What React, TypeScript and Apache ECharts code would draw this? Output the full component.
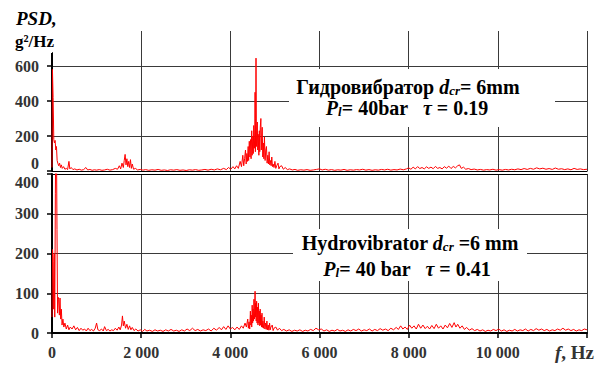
import React, { useEffect, useRef } from 'react';
import * as echarts from 'echarts';

const FONT = 'Liberation Serif';

const freqMin = 0;
const freqMax = 12000;
const freqStep = 2000;
const topMax = 800;
const topStep = 200;
const topLabelValues = [0, 200, 400, 600];
const bottomMax = 400;
const bottomStep = 100;

const topTitleLine1 = '{b|Гидровибратор }{i|d}{s|cr}{b|= 6mm}';
const topTitleLine2 = '{i|P}{s|l}{b|= 40bar   }{i|τ}{b| = 0.19}';
const bottomTitleLine1 = '{b|Hydrovibrator }{i|d}{s|cr}{b| =6 mm}';
const bottomTitleLine2 = '{i|P}{s|l}{b|= 40 bar   }{i|τ}{b| = 0.41}';

// [frequency Hz, PSD g^2/Hz] — upper panel (τ = 0.19)
const topSpectrum: [number, number][] = [
  [0, 20], [10, 580], [25, 420], [40, 180], [55, 160], [70, 175], [85, 120], [100, 140], [115, 60], [130, 45],
  [150, 30], [170, 45], [190, 20], [210, 35], [230, 15], [260, 25], [290, 10], [320, 15], [350, 8], [380, 55],
  [400, 12], [430, 20], [470, 8], [510, 12], [560, 6], [610, 10], [660, 5], [710, 8], [760, 20], [800, 6],
  [850, 9], [900, 4], [950, 7], [1000, 5], [1060, 8], [1120, 4], [1180, 6], [1240, 10], [1300, 5], [1360, 8],
  [1420, 15], [1470, 10], [1510, 30], [1540, 12], [1570, 45], [1600, 20], [1620, 60], [1640, 95], [1660, 35], [1680, 70],
  [1700, 25], [1720, 55], [1740, 20], [1760, 65], [1780, 15], [1800, 40], [1830, 10], [1870, 15], [1920, 6], [1980, 9],
  [2040, 5], [2100, 8], [2170, 4], [2240, 7], [2310, 5], [2380, 9], [2450, 4], [2520, 6], [2590, 3], [2660, 7],
  [2730, 5], [2800, 8], [2870, 4], [2940, 6], [3010, 3], [3080, 7], [3150, 5], [3220, 8], [3290, 4], [3360, 6],
  [3430, 9], [3500, 5], [3570, 10], [3640, 6], [3710, 12], [3780, 7], [3850, 15], [3910, 8], [3960, 20], [4010, 10],
  [4060, 25], [4100, 12], [4140, 30], [4180, 15], [4220, 55], [4250, 25], [4280, 90], [4300, 30], [4320, 70], [4340, 120],
  [4355, 40], [4370, 100], [4385, 55], [4400, 140], [4410, 60], [4425, 170], [4440, 80], [4455, 180], [4465, 70], [4480, 230],
  [4490, 90], [4505, 200], [4515, 100], [4525, 260], [4540, 130], [4550, 240], [4555, 450], [4562, 110], [4570, 300], [4576, 645],
  [4585, 140], [4595, 230], [4605, 280], [4615, 120], [4625, 210], [4640, 90], [4650, 230], [4660, 110], [4672, 250], [4685, 300],
  [4695, 120], [4705, 200], [4715, 250], [4728, 80], [4740, 160], [4752, 70], [4765, 195], [4780, 60], [4795, 120], [4810, 140],
  [4825, 45], [4840, 90], [4855, 40], [4870, 110], [4885, 35], [4900, 60], [4915, 30], [4930, 80], [4945, 25], [4960, 40],
  [4980, 20], [5000, 55], [5020, 15], [5040, 30], [5070, 45], [5090, 12], [5110, 25], [5150, 30], [5190, 10], [5230, 20],
  [5280, 8], [5330, 12], [5390, 6], [5450, 9], [5510, 4],
  [5580, 7], [5650, 5], [5720, 8], [5790, 4], [5860, 6], [5930, 9], [6000, 12], [6060, 6], [6130, 10], [6200, 5],
  [6270, 8], [6340, 4], [6410, 7], [6480, 5], [6550, 9], [6620, 4], [6690, 7], [6760, 5], [6830, 8], [6900, 6],
  [6970, 10], [7040, 5], [7110, 8], [7180, 4], [7250, 7], [7320, 5], [7390, 9], [7460, 6], [7530, 10], [7600, 5],
  [7670, 8], [7740, 6], [7810, 11], [7880, 7], [7950, 12], [8000, 18], [8050, 10], [8100, 22], [8150, 12], [8200, 25],
  [8250, 14], [8300, 20], [8350, 12], [8400, 24], [8450, 15], [8500, 22], [8550, 13], [8600, 26], [8650, 15], [8700, 20],
  [8750, 12], [8800, 25], [8850, 16], [8900, 28], [8950, 14], [9000, 26], [9050, 18], [9100, 30], [9140, 35], [9180, 15],
  [9230, 22], [9280, 10], [9340, 14], [9400, 8], [9470, 11], [9540, 6], [9610, 9], [9680, 5], [9750, 8], [9820, 6],
  [9890, 10], [9960, 5], [10030, 8], [10100, 5], [10170, 9], [10240, 6], [10310, 10], [10380, 7], [10450, 12], [10520, 8],
  [10590, 14], [10660, 9], [10730, 15], [10800, 10], [10870, 18], [10940, 12], [11010, 16], [11080, 10], [11150, 14], [11220, 9],
  [11290, 17], [11360, 10], [11430, 13], [11500, 8], [11570, 12], [11640, 7], [11710, 15], [11780, 9], [11850, 12], [11920, 8],
  [12000, 10],
];

// [frequency Hz, PSD g^2/Hz] — lower panel (τ = 0.41)
const bottomSpectrum: [number, number][] = [
  [0, 40], [12, 210], [25, 180], [38, 60], [50, 200], [62, 40], [75, 350], [88, 520], [100, 480], [112, 260],
  [125, 50], [138, 90], [150, 85], [165, 45], [180, 88], [195, 35], [210, 60], [225, 20], [245, 35], [265, 15],
  [290, 25], [320, 10], [350, 20], [380, 8], [410, 15], [450, 10], [490, 18], [530, 8], [570, 14], [610, 6],
  [650, 12], [690, 7], [730, 10], [770, 5], [810, 12], [850, 6], [890, 9], [930, 5], [970, 12], [1000, 25],
  [1030, 8], [1070, 6], [1110, 10], [1150, 5], [1180, 16], [1220, 6], [1260, 9], [1300, 5], [1340, 8], [1380, 6],
  [1420, 12], [1460, 7], [1500, 15], [1530, 8], [1560, 20], [1580, 43], [1600, 18], [1620, 30], [1650, 12], [1680, 22],
  [1710, 9], [1740, 18], [1770, 8], [1800, 14], [1840, 6], [1880, 10], [1930, 5], [1980, 8], [2030, 4], [2080, 9],
  [2130, 5], [2190, 7], [2250, 4], [2310, 8], [2370, 5], [2430, 7], [2490, 4], [2550, 8], [2610, 5], [2670, 9],
  [2730, 5], [2790, 7], [2850, 4], [2910, 8], [2970, 5], [3030, 10], [3090, 6], [3150, 12], [3210, 6], [3270, 9],
  [3330, 5], [3390, 8], [3450, 6], [3510, 10], [3570, 5], [3630, 12], [3690, 7], [3750, 14], [3800, 8], [3850, 16],
  [3900, 9], [3950, 18], [4000, 10], [4050, 14], [4100, 8], [4150, 15], [4200, 9], [4250, 18], [4290, 12], [4330, 25],
  [4360, 15], [4390, 35], [4405, 12], [4420, 28], [4435, 10], [4450, 55], [4460, 20], [4470, 45], [4480, 15], [4490, 70],
  [4500, 25], [4510, 60], [4520, 30], [4530, 85], [4540, 35], [4548, 60], [4555, 105], [4562, 40], [4570, 75], [4580, 30],
  [4590, 80], [4600, 25], [4610, 65], [4620, 20], [4630, 75], [4640, 25], [4650, 55], [4660, 18], [4670, 60], [4680, 20],
  [4690, 45], [4700, 15], [4710, 50], [4720, 14], [4730, 30], [4745, 12], [4760, 40], [4775, 10], [4790, 25], [4805, 9],
  [4820, 30], [4835, 8], [4850, 20], [4865, 7], [4880, 25], [4895, 8], [4910, 15], [4940, 20], [4960, 6], [4980, 12],
  [5020, 15], [5060, 7], [5100, 12],
  [5150, 6], [5200, 9], [5260, 5], [5320, 8], [5380, 4], [5440, 7], [5500, 5], [5560, 8], [5620, 4], [5680, 7],
  [5740, 5], [5800, 9], [5860, 6], [5920, 12], [5980, 8], [6040, 10], [6100, 5], [6160, 8], [6220, 4], [6280, 7],
  [6340, 5], [6400, 9], [6460, 5], [6520, 7], [6580, 4], [6640, 8], [6700, 5], [6760, 9], [6820, 6], [6880, 10],
  [6940, 5], [7000, 8], [7060, 6], [7120, 10], [7180, 5], [7240, 9], [7300, 6], [7360, 11], [7420, 7], [7480, 10],
  [7540, 6], [7600, 12], [7660, 8], [7720, 14], [7770, 9], [7820, 18], [7870, 10], [7920, 15], [7970, 9], [8020, 20],
  [8070, 12], [8120, 18], [8170, 10], [8220, 22], [8270, 12], [8320, 20], [8370, 11], [8420, 17], [8470, 10], [8520, 19],
  [8570, 11], [8620, 22], [8670, 12], [8720, 18], [8770, 10], [8820, 20], [8870, 13], [8920, 24], [8970, 14], [9020, 26],
  [9060, 15], [9100, 22], [9150, 12], [9200, 18], [9250, 9], [9300, 14], [9360, 7], [9420, 11], [9480, 6], [9540, 9],
  [9600, 5], [9660, 8], [9720, 4], [9780, 7], [9840, 5], [9900, 9], [9960, 6], [10020, 10], [10080, 5], [10140, 8],
  [10200, 4], [10260, 7], [10320, 5], [10380, 9], [10440, 5], [10500, 8], [10560, 6], [10620, 10], [10680, 5], [10740, 9],
  [10800, 6], [10860, 11], [10920, 7], [10980, 10], [11040, 6], [11100, 9], [11160, 5], [11220, 8], [11280, 6], [11340, 10],
  [11400, 7], [11460, 12], [11520, 7], [11580, 10], [11640, 6], [11700, 9], [11760, 5], [11820, 8], [11880, 6], [11940, 10],
  [12000, 8],
];

const GRID = '#3a3a3a';

const rich = {
  b: { fontFamily: FONT, fontWeight: 'bold', fontSize: 20, fill: '#000', color: '#000', lineHeight: 20, verticalAlign: 'middle' },
  i: { fontFamily: FONT, fontWeight: 'bold', fontStyle: 'italic', fontSize: 20, fill: '#000', color: '#000', lineHeight: 20, verticalAlign: 'middle' },
  s: { fontFamily: FONT, fontWeight: 'bold', fontStyle: 'italic', fontSize: 13, fill: '#000', color: '#000', lineHeight: 5, verticalAlign: 'bottom' },
};

function fmtFreq(v: number) {
  if (v >= freqMax) return '';
  return v >= 1000 ? `${Math.floor(v / 1000)} ${String(v % 1000).padStart(3, '0')}` : String(v);
}

function textEl(x: number, y: number, text: string) {
  return {
    type: 'text', x, y, z: 101,
    style: { text, rich, align: 'center', verticalAlign: 'middle', textAlign: 'center', textVerticalAlign: 'middle', fill: '#000', fontFamily: FONT },
  };
}

export default function App() {
  const ref = useRef<HTMLDivElement>(null);
  useEffect(() => {
    if (!ref.current) return;
    const chart = echarts.init(ref.current, undefined, { renderer: 'svg' });
    const yLabelStyle = { fontFamily: FONT, fontWeight: 'bold', fontSize: 16, color: '#333', margin: 13 };
    const tick = { show: true, length: 5, lineStyle: { color: '#000', width: 1.5 } };
    chart.setOption({
      animation: false,
      backgroundColor: '#fff',
      textStyle: { fontFamily: FONT },
      grid: [
        { left: 52, right: 15, top: 31, height: 140 },
        { left: 52, right: 15, top: 174, height: 159 },
      ],
      xAxis: [
        {
          type: 'value', gridIndex: 0, min: freqMin, max: freqMax, interval: freqStep,
          axisLine: { show: true, lineStyle: { color: '#000', width: 1.2 } },
          axisTick: { show: false }, axisLabel: { show: false },
          splitLine: { show: true, lineStyle: { color: GRID, width: 1 } },
        },
        {
          type: 'value', gridIndex: 1, min: freqMin, max: freqMax, interval: freqStep,
          axisLine: { show: true, lineStyle: { color: '#000', width: 2 } },
          axisTick: tick,
          axisLabel: { fontFamily: FONT, fontWeight: 'bold', fontSize: 16, color: '#333', margin: 11, formatter: fmtFreq },
          splitLine: { show: true, lineStyle: { color: GRID, width: 1 } },
        },
        {
          type: 'value', gridIndex: 1, position: 'top', min: freqMin, max: freqMax, interval: freqStep,
          axisLine: { show: true, lineStyle: { color: '#000', width: 1.2 } },
          axisTick: { show: false }, axisLabel: { show: false }, splitLine: { show: false },
        },
      ],
      yAxis: [
        {
          type: 'value', gridIndex: 0, min: 0, max: topMax, interval: topStep,
          axisLine: { show: false },
          axisTick: { ...tick, customValues: topLabelValues },
          axisLabel: {
            ...yLabelStyle, customValues: topLabelValues, verticalAlignMinLabel: 'bottom',
            formatter: (v: number) => (v >= topMax ? '' : String(v)),
          },
          splitLine: { show: true, lineStyle: { color: GRID, width: 1 } },
        },
        {
          type: 'value', gridIndex: 1, min: 0, max: bottomMax, interval: bottomStep,
          axisLine: { show: true, lineStyle: { color: '#000', width: 2 } },
          axisTick: tick,
          axisLabel: { ...yLabelStyle, verticalAlignMaxLabel: 'top' },
          splitLine: { show: true, lineStyle: { color: GRID, width: 1 } },
        },
      ],
      series: [
        {
          type: 'line', xAxisIndex: 0, yAxisIndex: 0, data: topSpectrum, showSymbol: false,
          lineStyle: { color: '#ff0000', width: 1 }, z: 5,
          markLine: {
            silent: true, symbol: 'none', label: { show: false },
            lineStyle: { color: '#000', width: 2, type: 'solid' },
            data: [[{ coord: [0, 0] }, { coord: [0, 675] }]],
          },
        },
        {
          type: 'line', xAxisIndex: 1, yAxisIndex: 1, data: bottomSpectrum, showSymbol: false,
          lineStyle: { color: '#ff0000', width: 1 }, z: 5,
        },
      ],
      graphic: [
        { type: 'rect', z: 100, shape: { x: 8, y: 26, width: 56, height: 26 }, style: { fill: '#fff' } },
        { type: 'text', z: 101, x: 16, y: 18, style: { text: 'PSD,', fontFamily: FONT, fontWeight: 'bold', fontStyle: 'italic', fontSize: 19, fill: '#000', verticalAlign: 'middle', textVerticalAlign: 'middle' } },
        { type: 'text', z: 101, x: 15, y: 41, style: { text: 'g²/Hz', fontFamily: FONT, fontWeight: 'bold', fontSize: 17, fill: '#000', verticalAlign: 'middle', textVerticalAlign: 'middle' } },
        { type: 'rect', z: 100, shape: { x: 289, y: 69, width: 266, height: 58 }, style: { fill: '#fff' } },
        textEl(408, 87, topTitleLine1),
        textEl(407, 108, topTitleLine2),
        { type: 'rect', z: 100, shape: { x: 293, y: 229, width: 234, height: 52 }, style: { fill: '#fff' } },
        textEl(410, 243, bottomTitleLine1),
        textEl(407, 269, bottomTitleLine2),
        {
          type: 'text', z: 101, x: 594, y: 352,
          style: {
            text: '{i|f}{b|, Hz}', align: 'right', textAlign: 'right', verticalAlign: 'middle', textVerticalAlign: 'middle', fontFamily: FONT,
            rich: {
              b: { fontFamily: FONT, fontWeight: 'bold', fontSize: 19, fill: '#333', color: '#333' },
              i: { fontFamily: FONT, fontWeight: 'bold', fontStyle: 'italic', fontSize: 19, fill: '#333', color: '#333' },
            },
          },
        },
      ],
    });
    return () => chart.dispose();
  }, []);
  return <div ref={ref} style={{ position: 'fixed', left: 0, top: 0, width: 602, height: 365 }} />;
}
